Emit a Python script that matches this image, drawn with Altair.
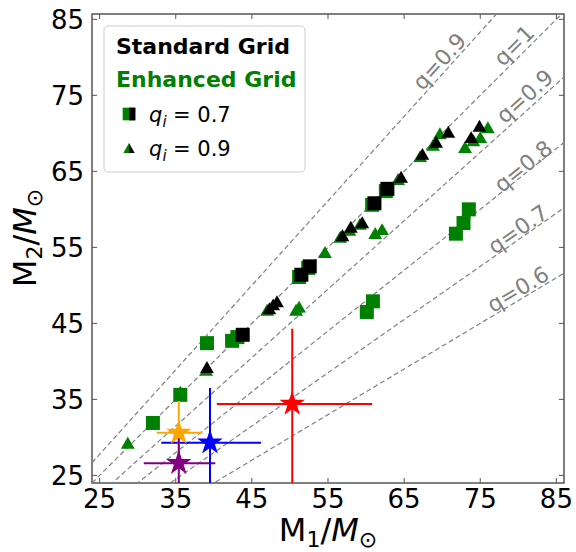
import math
import altair as alt
import pandas as pd

# ---------------- data ----------------
X_DOMAIN = [24, 86]
Y_DOMAIN = [24, 85.7]
tick_values = [25, 35, 45, 55, 65, 75, 85]
tick_labels = ["25", "35", "45", "55", "65", "75", "85"]

# mass-ratio guide lines (the first one is the q=0.9 line mirrored, M2 = M1/0.9)
q_lines = [1 / 0.9, 1.0, 0.9, 0.8, 0.7, 0.6]
qlabel_text = ["q=0.9", "q=1", "q=0.9", "q=0.8", "q=0.7", "q=0.6"]
qlabel_m1 = [69.7, 79.5, 80.9, 80.7, 80.0, 80.0]
qlabel_m2 = [79.4, 81.5, 74.8, 65.6, 57.3, 49.4]
qlabel_angle = [312, 315, 318, 321, 325, 329]

# Enhanced grid (green), q_i = 0.7 (squares)
enh_sq_m1 = [32.0, 35.6, 39.1, 42.4, 43.1, 51.2, 52.4, 60.1, 60.9, 60.8, 62.6, 71.8, 72.8, 73.5]
enh_sq_m2 = [31.9, 35.6, 42.4, 42.7, 43.2, 51.1, 52.3, 46.5, 47.9, 60.6, 62.4, 56.8, 58.2, 60.0]
# Enhanced grid (green), q_i = 0.9 (triangles)
enh_tri_m1 = [28.7, 35.6, 39.0, 47.0, 50.8, 51.2, 54.6, 56.6, 57.8, 59.2, 61.2, 62.1, 64.2, 67.1,
              68.8, 69.7, 73.0, 74.1, 75.0, 76.0]
enh_tri_m2 = [29.3, 36.0, 38.9, 46.8, 46.8, 47.2, 54.4, 56.4, 57.3, 58.1, 56.9, 57.4, 64.0, 67.0,
              68.5, 70.0, 68.2, 69.1, 69.5, 70.8]
# Standard grid (black), q_i = 0.7 (squares)
std_sq_m1 = [43.8, 51.5, 52.6, 61.1, 62.8]
std_sq_m2 = [43.5, 51.4, 52.5, 60.8, 62.7]
# Standard grid (black), q_i = 0.9 (triangles)
std_tri_m1 = [39.1, 47.3, 47.8, 48.3, 56.9, 58.0, 59.5, 64.6, 67.4, 69.2, 70.8, 73.8, 74.9]
std_tri_m2 = [39.25, 47.0, 47.5, 47.9, 56.6, 57.7, 58.3, 64.3, 67.3, 68.9, 70.2, 69.5, 71.0]

# observed events (stars with error bars)
ev_color = ["orange", "#0000ff", "#800080", "#ff0000"]
ev_m1 = [35.4, 39.5, 35.4, 50.3]
ev_m1_lo = [32.5, 33.1, 30.8, 40.4]
ev_m1_hi = [38.5, 46.2, 40.2, 60.8]
ev_m2 = [30.6, 29.3, 26.6, 34.4]
ev_m2_lo = [26.2, 21.5, 21.5, 23.0]
ev_m2_hi = [34.8, 36.5, 30.9, 44.3]

# ---------------- layout ----------------
W, H = 472, 469
FRAME = "#555555"
GREEN = "#008000"
GRAY = "#808080"
FONT = "DejaVu Sans"

# five-pointed star symbol path in the unit square [-1, 1]
_pts = []
for k in range(10):
    r = 1.0 if k % 2 == 0 else 0.382
    a = math.radians(-90 + 36 * k)
    _pts.append(f"{r * math.cos(a):.3f},{r * math.sin(a):.3f}")
STAR = "M" + "L".join(_pts) + "Z"

xs = alt.Scale(domain=X_DOMAIN, nice=False, zero=False)
ys = alt.Scale(domain=Y_DOMAIN, nice=False, zero=False)


def px2x(px):
    return X_DOMAIN[0] + px / W * (X_DOMAIN[1] - X_DOMAIN[0])


def py2y(py):
    return Y_DOMAIN[1] - py / H * (Y_DOMAIN[1] - Y_DOMAIN[0])


def X(f):
    return alt.X(f, type="quantitative", scale=xs, axis=None)


def Y(f):
    return alt.Y(f, type="quantitative", scale=ys, axis=None)


# guide lines
diag_df = pd.DataFrame({"q": q_lines})
diag_df["x1"] = X_DOMAIN[0]
diag_df["x2"] = X_DOMAIN[1]
diag_df["y1"] = diag_df["q"] * X_DOMAIN[0]
diag_df["y2"] = diag_df["q"] * X_DOMAIN[1]

diag = alt.Chart(diag_df).mark_rule(clip=True, color=GRAY, strokeWidth=1.2,
                                    strokeDash=[5, 3]).encode(
    x=X("x1"), x2="x2:Q", y=Y("y1"), y2="y2:Q")

qlab_df = pd.DataFrame({"t": qlabel_text, "x": qlabel_m1, "y": qlabel_m2, "a": qlabel_angle})
qlab = alt.Chart(qlab_df).mark_text(font=FONT, fontSize=22, color=GRAY, align="center",
                                    baseline="middle").encode(
    x=X("x"), y=Y("y"), text="t:N", angle=alt.Angle("a:Q", scale=None))


def pts(m1, m2, shape, color, size):
    df = pd.DataFrame({"m1": m1, "m2": m2})
    return alt.Chart(df).mark_point(shape=shape, filled=True, color=color, size=size,
                                    opacity=1, clip=True).encode(x=X("m1"), y=Y("m2"))


g_sq = pts(enh_sq_m1, enh_sq_m2, "square", GREEN, 196)
g_tri = pts(enh_tri_m1, enh_tri_m2, "triangle-up", GREEN, 190)
b_sq = pts(std_sq_m1, std_sq_m2, "square", "black", 196)
b_tri = pts(std_tri_m1, std_tri_m2, "triangle-up", "black", 190)

ev_df = pd.DataFrame({"c": ev_color, "m1": ev_m1, "m1lo": ev_m1_lo, "m1hi": ev_m1_hi,
                      "m2": ev_m2, "m2lo": ev_m2_lo, "m2hi": ev_m2_hi})
ecol = alt.Color("c:N", scale=None)
hbar = alt.Chart(ev_df).mark_rule(strokeWidth=2, clip=True).encode(
    x=X("m1lo"), x2="m1hi", y=Y("m2"), color=ecol)
vbar = alt.Chart(ev_df).mark_rule(strokeWidth=2, clip=True).encode(
    x=X("m1"), y=Y("m2lo"), y2="m2hi", color=ecol)
stars = alt.Chart(ev_df).mark_point(shape=STAR, filled=True, size=720, opacity=1,
                                    clip=True).encode(x=X("m1"), y=Y("m2"), color=ecol)

# inward ticks on all four sides, and tick labels
tick_df = pd.DataFrame({"v": tick_values, "lab": tick_labels})
TL = 5
t_bottom = alt.Chart(tick_df).mark_rule(color=FRAME, strokeWidth=1).encode(
    x=X("v"), y=alt.value(H), y2=alt.value(H - TL))
t_top = alt.Chart(tick_df).mark_rule(color=FRAME, strokeWidth=1).encode(
    x=X("v"), y=alt.value(0), y2=alt.value(TL))
t_left = alt.Chart(tick_df).mark_rule(color=FRAME, strokeWidth=1).encode(
    y=Y("v"), x=alt.value(0), x2=alt.value(TL))
t_right = alt.Chart(tick_df).mark_rule(color=FRAME, strokeWidth=1).encode(
    y=Y("v"), x=alt.value(W), x2=alt.value(W - TL))

LABEL_FS = 26
xlab = alt.Chart(tick_df).mark_text(font=FONT, fontSize=LABEL_FS, color="black", align="center",
                                    baseline="top").encode(
    x=X("v"), y=alt.value(H + 4), text="lab:N")
ylab = alt.Chart(tick_df).mark_text(font=FONT, fontSize=LABEL_FS, color="black", align="right",
                                    baseline="middle", dy=2).encode(
    y=Y("v"), x=alt.value(-8), text="lab:N")

# legend (custom)
one = pd.DataFrame({"k": [0]})
leg_box = alt.Chart(one).mark_rect(fill="white", fillOpacity=0.85, stroke="#cccccc",
                                   strokeWidth=1, cornerRadius=4).encode(
    x=alt.value(12), x2=alt.value(213), y=alt.value(12), y2=alt.value(158))


def tl(items, **kw):
    df = pd.DataFrame({"t": [i[0] for i in items],
                       "x": [px2x(i[1]) for i in items],
                       "y": [py2y(i[2]) for i in items]})
    base = dict(font=FONT, align="left", baseline="alphabetic")
    base.update(kw)
    return alt.Chart(df).mark_text(**base).encode(x=X("x"), y=Y("y"), text="t:N")


leg_std = tl([("Standard Grid", 24, 33)], fontSize=22, fontWeight="bold", color="black",
             baseline="middle")
leg_enh = tl([("Enhanced Grid", 24, 66)], fontSize=22, fontWeight="bold", color=GREEN,
             baseline="middle")
leg_q = tl([("q", 57, 108), ("q", 57, 142)], fontSize=21, fontStyle="italic", color="black")
leg_i = tl([("i", 70.5, 113), ("i", 70.5, 147)], fontSize=15, fontStyle="italic", color="black")
leg_v = tl([("= 0.7", 81, 108), ("= 0.9", 81, 142)], fontSize=21, color="black")

mk_df = pd.DataFrame({"x": [px2x(37)], "y": [py2y(100)]})
leg_sq_g = alt.Chart(mk_df).mark_point(shape="square", filled=True, color=GREEN, size=160,
                                       opacity=1).encode(x=X("x"), y=Y("y"))
leg_sq_b = alt.Chart(mk_df).mark_point(shape="M0,-1L1,-1L1,1L0,1Z", filled=True, color="black",
                                       size=160, opacity=1).encode(x=X("x"), y=Y("y"))
mt_df = pd.DataFrame({"x": [px2x(37)], "y": [py2y(134)]})
leg_tr_g = alt.Chart(mt_df).mark_point(shape="M0,-0.866L-1,0.866L0,0.866Z", filled=True,
                                       color=GREEN, size=130, opacity=1).encode(x=X("x"), y=Y("y"))
leg_tr_b = alt.Chart(mt_df).mark_point(shape="M0,-0.866L1,0.866L0,0.866Z", filled=True,
                                       color="black", size=130, opacity=1).encode(x=X("x"), y=Y("y"))

# axis titles composed of pieces (M_1 / M_sun)
TF, SF = 32, 22
wM, wS, wSl, wO = 0.863 * TF, 0.636 * SF, 0.337 * TF, 0.838 * SF
tot = wM + wS + wSl + wM + wO
x0 = W / 2 - tot / 2
bx = 527
xt_reg = tl([("M", x0, bx), ("/", x0 + wM + wS, bx)], fontSize=TF, color="black")
xt_sub = tl([("1", x0 + wM, bx + 6), ("⊙", x0 + 2 * wM + wS + wSl, bx + 6)],
            fontSize=SF, color="black")
xt_it = tl([("M", x0 + wM + wS + wSl, bx)], fontSize=TF, fontStyle="italic", color="black")

yc = 224
y0 = yc + tot / 2
byx = -56
yt_reg = tl([("M", byx, y0), ("/", byx, y0 - wM - wS)], fontSize=TF, color="black", angle=270)
yt_sub = tl([("2", byx + 6, y0 - wM), ("⊙", byx + 6, y0 - 2 * wM - wS - wSl)],
            fontSize=SF, color="black", angle=270)
yt_it = tl([("M", byx, y0 - wM - wS - wSl)], fontSize=TF, fontStyle="italic", color="black",
           angle=270)

chart = alt.layer(
    diag, qlab, g_sq, g_tri, b_sq, b_tri, hbar, vbar, stars,
    t_bottom, t_top, t_left, t_right, xlab, ylab,
    leg_box, leg_std, leg_enh, leg_q, leg_i, leg_v, leg_sq_g, leg_sq_b, leg_tr_g, leg_tr_b,
    xt_reg, xt_sub, xt_it, yt_reg, yt_sub, yt_it,
).properties(
    width=W, height=H,
    padding={"left": 92, "top": 14, "right": 12, "bottom": 69},
    autosize=alt.AutoSizeParams(type="none"),
    background="white",
).configure_view(stroke=FRAME, strokeWidth=1.5)

chart.save("out.html", embed_options={"renderer": "svg", "actions": False})
